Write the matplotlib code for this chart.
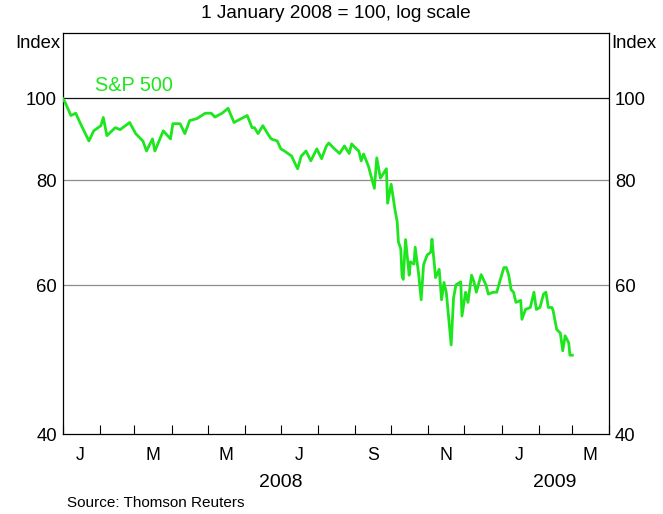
import matplotlib
matplotlib.use('Agg')
import matplotlib.pyplot as plt
import matplotlib.dates as mdates
from matplotlib.ticker import FixedLocator, NullLocator, NullFormatter
import pandas as pd

plt.rcParams['font.family'] = ['Liberation Sans', 'DejaVu Sans']

# days since 1 January 2008, and S&P 500 index (1 Jan 2008 = 100)
days = [0, 2, 7, 11, 15, 22, 26, 32, 34, 37, 44, 48, 56, 61, 67, 70, 75, 77, 84, 90,
        92, 98, 102, 106, 112, 119, 124, 127, 133, 138, 143, 149, 154, 158, 160, 163,
        167, 171, 174, 179, 182, 185, 191, 194, 196, 199, 203, 207, 212, 216, 220, 222,
        226, 231, 235, 239, 241, 245, 247, 249, 251, 255, 260, 262, 265, 270, 271, 274,
        277, 279, 280, 282, 283, 284, 286, 289, 290, 293, 294, 297, 299, 301, 304, 307,
        308, 311, 314, 316, 318, 320, 324, 326, 328, 332, 333, 336, 338, 341, 343, 345,
        349, 353, 355, 359, 362, 365, 368, 370, 372, 374, 376, 378, 382, 383, 386, 390,
        393, 395, 398, 401, 403, 405, 408, 409, 412, 415, 417, 419, 422, 423, 425]
sp500 = [100, 99, 95.4, 96, 93.3, 89, 91.5, 92.8, 94.9, 90.3, 92.3, 91.8, 93.6, 90.8,
         89, 86.6, 89.5, 86.6, 91.5, 89.5, 93.3, 93.3, 90.8, 94.1, 94.6, 96, 96, 95, 96,
         97.3, 93.6, 94.6, 95.4, 92.3, 92.3, 90.8, 92.8, 90.8, 89.5, 89, 87.1, 86.6,
         85.4, 83.6, 82.5, 85.4, 86.6, 84.3, 87.1, 84.8, 87.8, 88.5, 87.3, 86, 87.8, 86,
         88.3, 87.1, 86.6, 84.3, 85.9, 83.1, 78.2, 85, 80.4, 82.5, 75.1, 79.1, 74.0,
         71.4, 67.6, 66.3, 61.7, 61.0, 68.0, 61.7, 64.0, 63.6, 66.6, 61.7, 57.7, 63.5,
         65.2, 65.7, 68.1, 61.3, 62.7, 57.7, 60.5, 58.8, 51.0, 58, 60.1, 60.6, 55.2,
         58.9, 57.3, 61.7, 60.6, 58.9, 61.8, 60.1, 58.6, 58.9, 58.9, 61, 63, 63, 61.7,
         59.3, 58.9, 57.3, 57.6, 54.7, 56.2, 56.5, 58.9, 56.2, 56.5, 58.6, 58.9, 56.5,
         56.5, 56, 53.2, 52.7, 50.2, 52.3, 51.3, 49.6, 49.6]

month_labels = ['J', 'M', 'M', 'J', 'S', 'N', 'J', 'M']
label_months = ['2008-01-16', '2008-03-16', '2008-05-16', '2008-07-16',
                '2008-09-16', '2008-11-16', '2009-01-16', '2009-03-16']
years = ['2008', '2009']
year_pos = ['2008-07-01', '2009-02-14']
yticks = [40, 60, 80, 100]

green = '#1ee61e'
dates = pd.Timestamp('2008-01-01') + pd.to_timedelta(days, unit='D')

fig = plt.figure(figsize=(6.63, 5.14), dpi=100)
ax = fig.add_axes([0.0943, 0.1556, 0.825, 0.7802])
ax.plot(dates, sp500, color=green, lw=2, zorder=3)

ax.set_yscale('log')
ax.set_ylim(40, 119.5)
ax.set_xlim(pd.Timestamp('2008-01-01'), pd.Timestamp('2009-04-01'))

ax.yaxis.set_major_locator(FixedLocator(yticks))
ax.yaxis.set_minor_locator(NullLocator())
ax.yaxis.set_minor_formatter(NullFormatter())
ax.set_yticklabels([str(v) for v in yticks])
ax.tick_params(axis='y', length=0, labelsize=13.3, pad=4,
               labelleft=True, labelright=True)
for v in yticks[1:]:
    ax.axhline(v, color='#111111' if v == 100 else '#8c8c8c', lw=0.9, zorder=1)

# month ticks at boundaries, labels mid-month
ax.xaxis.set_minor_locator(mdates.MonthLocator())
ax.xaxis.set_major_locator(FixedLocator(mdates.date2num(pd.to_datetime(label_months))))
ax.set_xticklabels(month_labels)
ax.tick_params(axis='x', which='major', length=0, labelsize=12.8, pad=9)
ax.tick_params(axis='x', which='minor', direction='in', length=6.5, width=0.8)
for d, y in zip(year_pos, years):
    ax.text(mdates.date2num(pd.Timestamp(d)), -0.12, y, transform=ax.get_xaxis_transform(),
            ha='center', va='center', fontsize=14)

for s in ax.spines.values():
    s.set_linewidth(0.9)

ax.text(pd.Timestamp('2008-01-28'), 103.6, 'S&P 500', color=green, fontsize=14.3,
        va='center', ha='left')

fig.text(0.507, 0.973, '1 January 2008 = 100, log scale', ha='center', va='center', fontsize=13.7)
fig.text(0.0905, 0.916, 'Index', ha='right', va='center', fontsize=13.3)
fig.text(0.9226, 0.916, 'Index', ha='left', va='center', fontsize=13.3)
fig.text(0.101, 0.0214, 'Source: Thomson Reuters', ha='left', va='center', fontsize=11)

fig.savefig('out.png', dpi=100)
